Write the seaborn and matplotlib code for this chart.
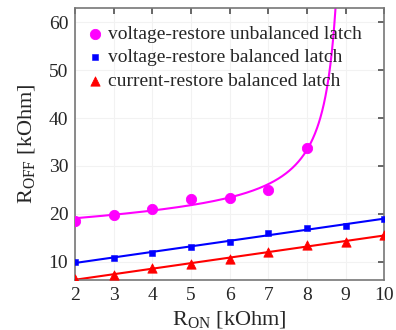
import numpy as np
import seaborn as sns
import matplotlib
matplotlib.use("Agg")
import matplotlib.pyplot as plt

# R_ON values [kOhm]
r_on = [2, 3, 4, 5, 6, 7, 8, 9, 10]
r_on_unbal = [2, 3, 4, 5, 6, 7, 8]

# R_OFF measurements [kOhm]
vr_unbalanced = [18.5, 19.8, 21.0, 23.0, 23.3, 25.0, 33.7]
vr_balanced = [10.0, 10.8, 11.8, 13.1, 14.0, 16.0, 17.0, 17.5, 19.0]
cr_balanced = [6.4, 7.3, 8.6, 9.5, 10.6, 12.1, 13.4, 14.2, 15.5]

labels = ["voltage-restore unbalanced latch",
          "voltage-restore balanced latch",
          "current-restore balanced latch"]
colors = ["#ff00ff", "#0000ff", "#ff0000"]


def fit_pole(x, y):
    # least squares fit of a + b*x + c/(d - x), grid over the pole d
    x = np.asarray(x, float)
    y = np.asarray(y, float)
    best = None
    for d in np.linspace(9.1, 10.0, 181):
        A = np.column_stack([np.ones_like(x), x, 1.0 / (d - x)])
        coef, *_ = np.linalg.lstsq(A, y, rcond=None)
        err = np.sum((A @ coef - y) ** 2)
        if best is None or err < best[0]:
            best = (err, d, coef)
    _, d, (a, b, c) = best
    return lambda t: a + b * t + c / (d - t), d


sns.set_theme(style="white")
plt.rcParams["font.family"] = ["Liberation Serif", "DejaVu Serif"]
plt.rcParams["mathtext.fontset"] = "custom"
plt.rcParams["mathtext.rm"] = "Liberation Serif"

fig = plt.figure(figsize=(3.96, 3.3), dpi=100)
ax = fig.add_axes([0.19, 0.152, 0.78, 0.824])

# fitted curves
f_unbal, pole = fit_pole(r_on_unbal, vr_unbalanced)
xs = np.linspace(2, pole - 0.01, 500)
ys = f_unbal(xs)
keep = ys < 70
sns.lineplot(x=xs[keep], y=ys[keep], color=colors[0], lw=1.5, ax=ax,
             estimator=None, sort=False)
xl = np.linspace(2, 10, 50)
for yv, col in [(vr_balanced, colors[1]), (cr_balanced, colors[2])]:
    k, b = np.polyfit(r_on, yv, 1)
    sns.lineplot(x=xl, y=k * xl + b, color=col, lw=1.5, ax=ax)

# measured points
sns.scatterplot(x=r_on_unbal, y=vr_unbalanced, color=colors[0], marker="o",
                s=55, edgecolor=colors[0], label=labels[0], ax=ax, zorder=3)
sns.scatterplot(x=r_on, y=vr_balanced, color=colors[1], marker="s",
                s=22, edgecolor=colors[1], label=labels[1], ax=ax, zorder=3)
sns.scatterplot(x=r_on, y=cr_balanced, color=colors[2], marker="^",
                s=45, edgecolor=colors[2], label=labels[2], ax=ax, zorder=3)

ax.set_xlim(2, 10)
ax.set_ylim(6.2, 63)
ax.set_xticks(range(2, 11))
ax.set_yticks([10, 20, 30, 40, 50, 60])
ax.grid(True, color="#f2f2f2", lw=0.8)
ax.tick_params(direction="in", length=4, top=True, right=True,
               labelsize=14, color="#555555", pad=5)
for s in ax.spines.values():
    s.set_color("#777777")
    s.set_linewidth(1.2)
ax.set_xlabel(r"R$_{\mathrm{ON}}$ [kOhm]", fontsize=16, labelpad=4)
ax.set_ylabel(r"R$_{\mathrm{OFF}}$ [kOhm]", fontsize=16, labelpad=8)

leg = ax.legend(loc="upper left", bbox_to_anchor=(-0.03, 1.0),
                frameon=False, fontsize=14, handletextpad=0.05,
                borderaxespad=0.6, labelspacing=0.3, handlelength=1.2,
                borderpad=0.3)

fig.savefig("out.png", dpi=100)
